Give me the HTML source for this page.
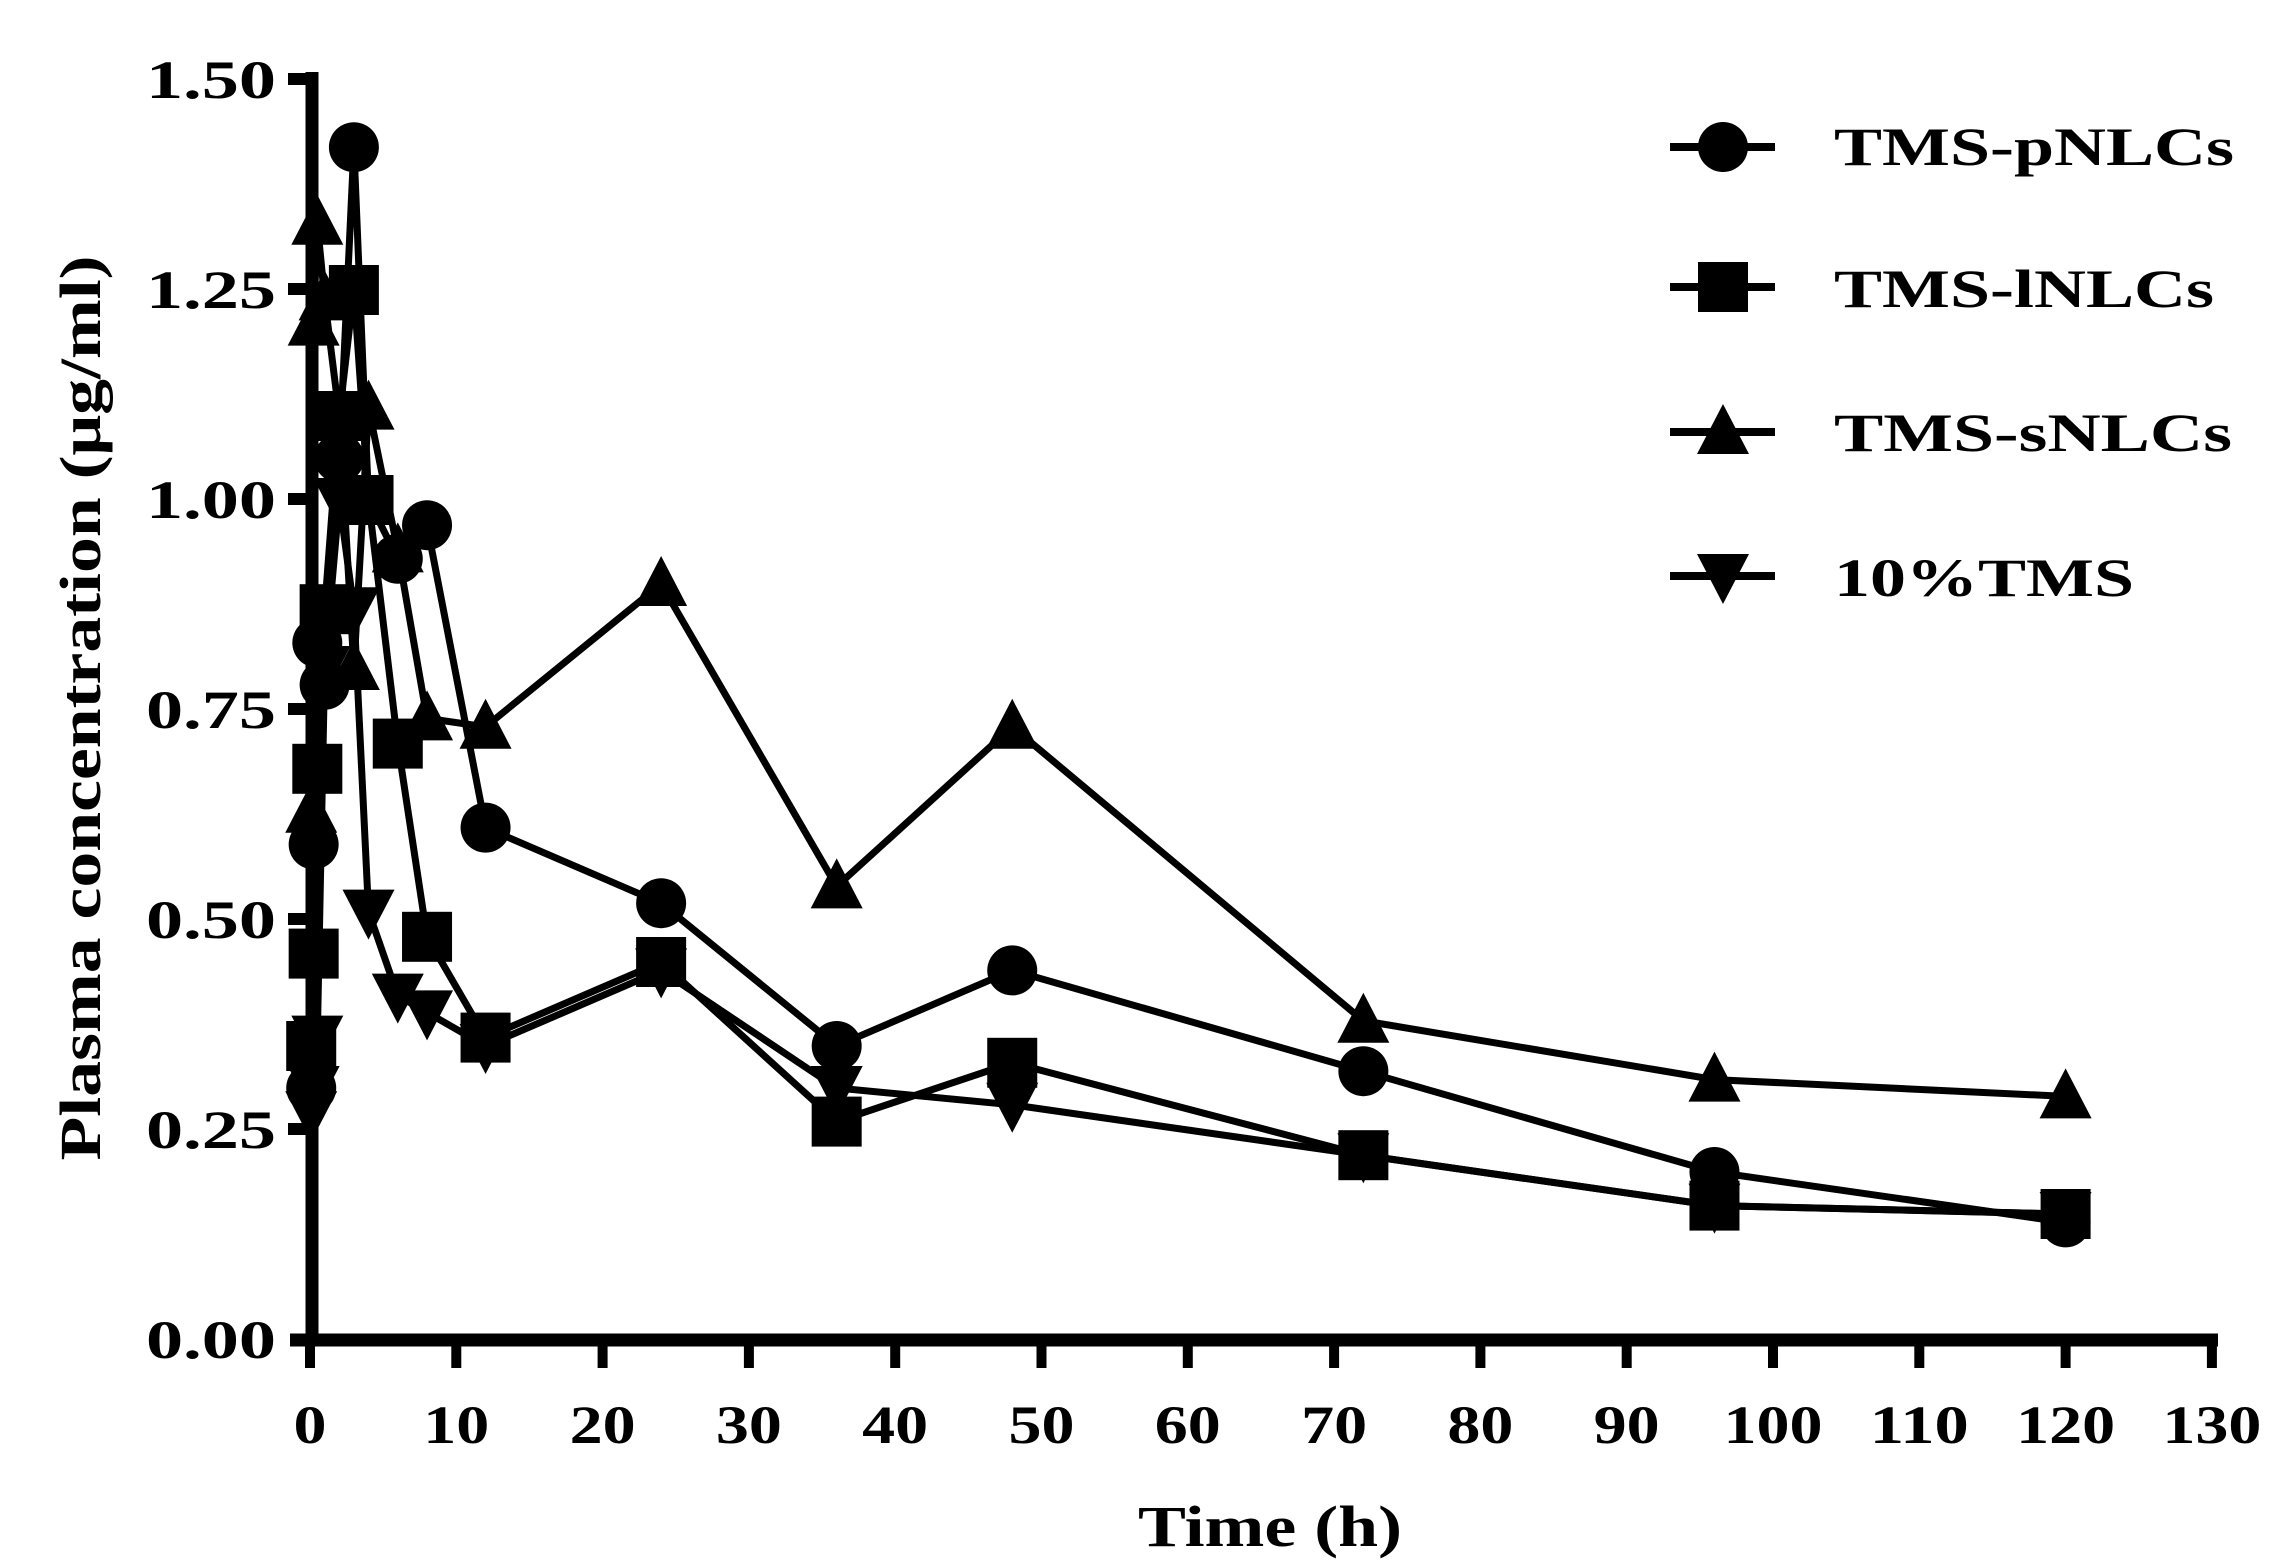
<!DOCTYPE html>
<html><head><meta charset="utf-8"><style>html,body{margin:0;padding:0;background:#fff}svg{display:block}</style></head>
<body>
<svg id="s" width="2291" height="1562" viewBox="0 0 2291 1562" xmlns="http://www.w3.org/2000/svg" font-family="'Liberation Serif',serif" font-weight="bold">
<g id="plot"></g>
<!-- axes -->
<line x1="312" y1="72" x2="312" y2="1346" stroke="#000" stroke-width="13"/>
<line x1="290" y1="1340" x2="2218" y2="1340" stroke="#000" stroke-width="13"/>
<g stroke="#000" stroke-width="12">
<line x1="288" y1="79" x2="312" y2="79"/><line x1="288" y1="289" x2="312" y2="289"/><line x1="288" y1="499" x2="312" y2="499"/><line x1="288" y1="709" x2="312" y2="709"/><line x1="288" y1="919" x2="312" y2="919"/><line x1="288" y1="1129" x2="312" y2="1129"/>
</g>
<g id="xt" stroke="#000" stroke-width="10"></g>
<g font-size="54" text-anchor="end">
<text x="276" y="98" textLength="130" lengthAdjust="spacingAndGlyphs">1.50</text>
<text x="276" y="308" textLength="130" lengthAdjust="spacingAndGlyphs">1.25</text>
<text x="276" y="518" textLength="130" lengthAdjust="spacingAndGlyphs">1.00</text>
<text x="276" y="728" textLength="130" lengthAdjust="spacingAndGlyphs">0.75</text>
<text x="276" y="938" textLength="130" lengthAdjust="spacingAndGlyphs">0.50</text>
<text x="276" y="1148" textLength="130" lengthAdjust="spacingAndGlyphs">0.25</text>
<text x="276" y="1358" textLength="130" lengthAdjust="spacingAndGlyphs">0.00</text>
</g>
<g id="xl" font-size="54" text-anchor="middle"></g>
<text x="1270" y="1546" font-size="58" text-anchor="middle" textLength="264" lengthAdjust="spacingAndGlyphs">Time (h)</text>
<text transform="translate(100,708) rotate(-90)" font-size="58" text-anchor="middle" textLength="905" lengthAdjust="spacingAndGlyphs">Plasma concentration (μg/ml)</text>
<!-- legend -->
<g id="leg"></g>
<g font-size="54">
<text x="1834" y="165" textLength="400" lengthAdjust="spacingAndGlyphs">TMS-pNLCs</text>
<text x="1834" y="307" textLength="380" lengthAdjust="spacingAndGlyphs">TMS-lNLCs</text>
<text x="1834" y="451" textLength="398" lengthAdjust="spacingAndGlyphs">TMS-sNLCs</text>
<text x="1834" y="596" textLength="300" lengthAdjust="spacingAndGlyphs">10%TMS</text>
</g>
</svg>
<script>
const NS="http://www.w3.org/2000/svg";
const X=t=>310+14.63*t, Y=v=>1340-840*v;
const xt=document.getElementById('xt'), xl=document.getElementById('xl');
for(let i=0;i<=13;i++){const x=X(i*10);
 let l=document.createElementNS(NS,'line');l.setAttribute('x1',x);l.setAttribute('x2',x);l.setAttribute('y1',1340);l.setAttribute('y2',1368);xt.appendChild(l);
 let t=document.createElementNS(NS,'text');t.setAttribute('x',x);t.setAttribute('y',1443);t.textContent=String(i*10);
 const w=[1,2,2,2,2,2,2,2,2,2,3,3,3,3][i]*33;t.setAttribute('textLength',w);t.setAttribute('lengthAdjust','spacingAndGlyphs');xl.appendChild(t);}
const S={
c:[[0.083,0.3],[0.25,0.59],[0.5,0.83],[1,0.78],[2,1.05],[3,1.42],[4,1.0],[6,0.93],[8,0.97],[12,0.61],[24,0.52],[36,0.35],[48,0.44],[72,0.32],[96,0.20],[120,0.14]],
s:[[0.083,0.35],[0.25,0.46],[0.5,0.68],[1,0.87],[2,1.10],[3,1.25],[4,1.0],[6,0.71],[8,0.48],[12,0.36],[24,0.45],[36,0.26],[48,0.33],[72,0.22],[96,0.16],[120,0.15]],
t:[[0.083,0.63],[0.25,1.21],[0.5,1.33],[1,1.24],[2,1.10],[3,0.8],[4,1.11],[6,0.94],[8,0.74],[12,0.73],[24,0.90],[36,0.54],[48,0.73],[72,0.38],[96,0.31],[120,0.29]],
v:[[0.083,0.27],[0.25,0.30],[0.5,0.36],[1,0.8],[2,1.0],[3,0.87],[4,0.51],[6,0.41],[8,0.39],[12,0.35],[24,0.44],[36,0.30],[48,0.28],[72,0.22],[96,0.16],[120,0.15]]};
function marker(g,k,x,y){let e;const r=25;
 if(k=='c'){e=document.createElementNS(NS,'circle');e.setAttribute('cx',x);e.setAttribute('cy',y);e.setAttribute('r',r);}
 else if(k=='s'){e=document.createElementNS(NS,'rect');e.setAttribute('x',x-r);e.setAttribute('y',y-r);e.setAttribute('width',2*r);e.setAttribute('height',2*r);}
 else if(k=='t'){e=document.createElementNS(NS,'polygon');e.setAttribute('points',`${x},${y-28} ${x-26},${y+22} ${x+26},${y+22}`);}
 else {e=document.createElementNS(NS,'polygon');e.setAttribute('points',`${x},${y+28} ${x-26},${y-22} ${x+26},${y-22}`);}
 e.setAttribute('fill','#000');g.appendChild(e);}
const g=document.getElementById('plot');
for(const k in S){const p=document.createElementNS(NS,'polyline');
 p.setAttribute('points',S[k].map(d=>X(d[0])+','+Y(d[1])).join(' '));p.setAttribute('fill','none');p.setAttribute('stroke','#000');p.setAttribute('stroke-width','7');g.appendChild(p);}
for(const k in S)for(const d of S[k])marker(g,k,X(d[0]),Y(d[1]));
const lg=document.getElementById('leg');const ly={c:147,s:287,t:432,v:576};
for(const k in ly){const l=document.createElementNS(NS,'line');l.setAttribute('x1',1670);l.setAttribute('x2',1775);l.setAttribute('y1',ly[k]);l.setAttribute('y2',ly[k]);l.setAttribute('stroke','#000');l.setAttribute('stroke-width','8');lg.appendChild(l);marker(lg,k,1723,ly[k]);}
</script>
</body></html>
